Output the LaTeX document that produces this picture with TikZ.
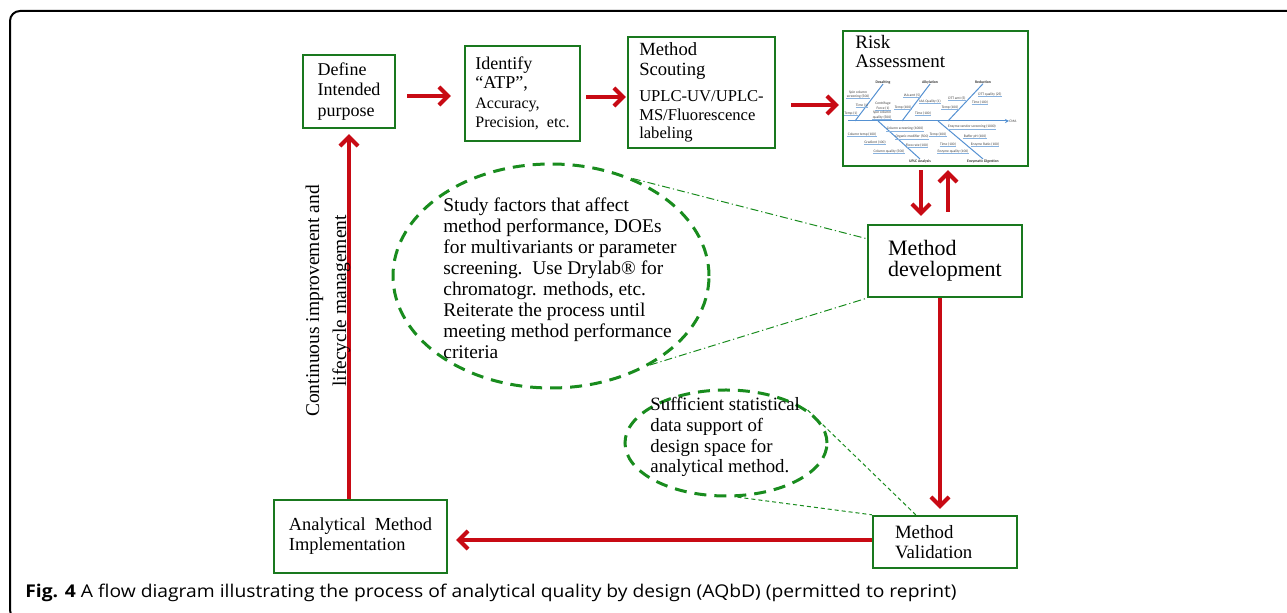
\documentclass[tikz,border=0pt]{standalone}
\usepackage{fontspec}
\setmainfont{Liberation Serif}
\newfontfamily\capfont{Open Sans}
\newfontfamily\fishfont{Carlito}
\usetikzlibrary{arrows.meta,calc,shapes.geometric}
\definecolor{boxgreen}{RGB}{25,120,30}
\definecolor{dashgreen}{RGB}{25,140,30}
\definecolor{arrred}{RGB}{200,10,20}
\definecolor{fishblue}{RGB}{85,145,210}
\newcommand\myfs[2]{\fontsize{#1}{#2}\selectfont}
\begin{document}
\begin{tikzpicture}[x=0.5pt,y=-0.5pt,
  box/.style={draw=boxgreen,line width=1.2pt,inner sep=0pt,align=left},
  arr/.style={draw=arrred,line width=2pt,-{Straight Barb[length=4.5pt,width=9pt]}},
  ell/.style={ellipse,draw=dashgreen,line width=1.5pt,dash pattern=on 6pt off 4pt,inner sep=0pt},
  txt/.style={inner sep=0pt,align=left,anchor=north west},
  dlink/.style={draw=dashgreen,line width=0.5pt,dash pattern=on 4pt off 1.5pt on 0.6pt off 1.5pt},
  slink/.style={draw=dashgreen,line width=0.5pt,dash pattern=on 2pt off 1.5pt},
  fl/.style={inner sep=0pt,font=\fishfont\myfs{1.8}{2.1},text=black!75,align=center},
  fu/.style={fl,append after command={(\tikzlastnode.south west) edge[draw=fishblue!70,line width=0.25pt] (\tikzlastnode.south east)}},
  fh/.style={inner sep=0pt,font=\fishfont\bfseries\myfs{1.9}{2.2},text=black!80},
  bone/.style={draw=fishblue,line width=0.5pt}
]
\useasboundingbox (0,0) rectangle (1287,613);
\begin{scope}
\clip (0,0) rectangle (1287,613);
\fill[white] (0,0) rectangle (1287,613);
\draw[line width=1pt,rounded corners=5pt] (10,11) rectangle (1320,620);
\end{scope}

% main boxes
\node[box,minimum width=46pt,minimum height=36.5pt,font=\myfs{9}{10.25}] (DI) at (349,91.5) {Define\\Intended\\purpose};
\node[box,minimum width=57.5pt,minimum height=47.5pt,font=\myfs{8}{9.6}] (ID) at (522.5,93.5) {{\myfs{9}{9.6}Identify}\\{\myfs{9}{9.6}“ATP”,}\\Accuracy,\\Precision,\ \ etc.};
\node[box,minimum width=73.5pt,minimum height=55.5pt,font=\myfs{8.3}{9.4}] (MS) at (701.5,92.5) {{\myfs{9.3}{9.4}Method}\\[0.6pt]{\myfs{9.3}{9.4}Scouting}\\[3.5pt]UPLC-UV/UPLC-\\MS/Fluorescence\\labeling};
\node[box,minimum width=92.5pt,minimum height=67.5pt] (RA) at (935.5,98.5) {};
\node[txt,font=\myfs{9.5}{9.5}] (RAt) at (855,35) {Risk\\Assessment};
\node[box,minimum width=77pt,minimum height=36pt,font=\myfs{11}{10.5}] (MD) at (945,261) {Method\\development};
\node[box,minimum width=72pt,minimum height=26pt,inner xsep=11pt,text width=50pt,font=\myfs{9.4}{10}] (MV) at (945,542) {Method\\Validation};
\node[box,minimum width=86.5pt,minimum height=36.5pt,font=\myfs{9.2}{10}] (AM) at (360.5,536.5) {Analytical\ \ Method\\Implementation};

% ellipses
\node[ell,minimum width=158pt,minimum height=112pt] (E1) at (551,276) {};
\node[txt,font=\myfs{9.7}{10.5}] (E1t) at (443,197) {Study factors that affect\\method performance, DOEs\\for multivariants or parameter\\screening.\ \ Use Drylab® for\\chromatogr. methods, etc.\\Reiterate the process until\\meeting method performance\\criteria};
\node[ell,minimum width=101pt,minimum height=53pt] (E2) at (726,443) {};
\node[txt,font=\myfs{9.4}{10.35}] (E2t) at (650,397) {Sufficient statistical\\data support of\\design space for\\analytical method.};

\draw[dlink] (E1.50) -- ($(MD.north west)!0.2!(MD.south west)$);
\draw[dlink] (E1.-42) -- (MD.south west);
\draw[slink] (E2.22) -- ($(MV.north west)!0.3!(MV.north east)$);
\draw[slink] (E2.-78) -- (MV.north west);

% arrows
\draw[arr,shorten <=5.5pt,shorten >=6.5pt] ($(DI.east)+(0,4.5)$) -- ($(ID.west)+(0,2.5)$);
\draw[arr,shorten <=2.5pt,shorten >=0.5pt] ($(ID.east)+(0,3.5)$) -- ($(MS.west)+(0,4.5)$);
\draw[arr,shorten <=7.5pt,shorten >=1.5pt] ($(MS.east)+(0,12.5)$) -- ($(RA.west)+(0,6.5)$);
\draw[arr,shorten <=1.5pt,shorten >=4pt] ($(RA.south)+(-14.5,0)$) -- ($(MD.north)+(-24,0)$);
\draw[arr,shorten <=6pt,shorten >=1.5pt] ($(MD.north)+(3,0)$) -- ($(RA.south)+(12.5,0)$);
\draw[arr,shorten >=3pt] ($(MD.south)+(-5,0)$) -- ($(MV.north)+(-5,0)$);
\draw[arr,shorten >=4pt] ($(MV.west)+(0,-2)$) -- ($(AM.east)+(0,3.5)$);
\draw[arr,shorten >=2.5pt] (DI.south |- AM.north) -- (DI.south);

\node[rotate=90,align=center,inner sep=0pt,font=\myfs{9.75}{13.5}] (CI) at (328,301) {Continuous improvement and\\lifecycle management};

% fishbone
\coordinate (FS) at (848,121);
\node[fl,anchor=west] (CMA) at (1009,121) {CMA};
\draw[bone,-{Stealth[length=2pt,width=2pt]}] (FS) -- (CMA.west);
\node[fh] (H1) at (883,82) {Desalting};
\node[fh] (H2) at (930,82) {Alkylation};
\node[fh] (H3) at (983,82) {Reduction};
\node[fh] (H4) at (920,161) {UPLC Analysis};
\node[fh] (H5) at (983,161) {Enzymatic Digestion};
\coordinate (B1) at (855,121);
\coordinate (B2) at (902,121);
\coordinate (B3) at (948,121);
\coordinate (B4) at (878,121);
\coordinate (B5) at (938,121);
\draw[bone] (B1) -- (H1.south);
\draw[bone] (B2) -- (H2.south);
\draw[bone] (B3) -- (H3.south);
\draw[bone] (B4) -- (H4.north);
\draw[bone] (B5) -- (H5.north);
\node[fu] (d1) at (858,94.5) {Spin column\\screening (500)};
\node[fu] (d2) at (862,105) {Time (1)};
\node[fu] (d3) at (883,106) {Centrifuge\\Force (1)};
\node[fu] (d4) at (851,113) {Temp (1)};
\node[fu] (d5) at (882,115) {Spin column\\quality (500)};
\node[fu] (a1) at (912,95) {IAA amt (5)};
\node[fu] (a2) at (930,101) {IAA Quality (1)};
\node[fu] (a3) at (903,107) {Temp (100)};
\node[fu] (a4) at (923,113) {Time (100)};
\node[fu] (r1) at (957,98) {DTT amt (5)};
\node[fu] (r2) at (990,94) {DTT quality (25)};
\node[fu] (r3) at (980,102) {Time (100)};
\node[fu] (r4) at (950,107) {Temp (100)};
\node[fu] (u1) at (905,129) {Column screening (1000)};
\node[fu] (u2) at (912,137) {Organic modifier (500)};
\node[fu] (u3) at (862,134) {Column temp (100)};
\node[fu] (u4) at (875,142) {Gradient (100)};
\node[fu] (u5) at (917,145) {Flow rate (100)};
\node[fu] (u6) at (889,151) {Column quality (500)};
\node[fu] (e1) at (972,127) {Enzyme vendor screening (1000)};
\node[fu] (e2) at (938,134) {Temp (100)};
\node[fu] (e3) at (975,136) {Buffer pH (100)};
\node[fu] (e4) at (948,144) {Time (100)};
\node[fu] (e5) at (985,144) {Enzyme Ratio (100)};
\node[fu] (e6) at (953,151) {Enzyme quality (100)};

% caption
\node[anchor=base west,inner sep=0pt,font=\capfont\myfs{8.8}{10}] (CAP) at (25,598) {\scalebox{1.095}[1]{\textbf{Fig. 4} A flow diagram illustrating the process of analytical quality by design (AQbD) (permitted to reprint)}};
\end{tikzpicture}
\end{document}
